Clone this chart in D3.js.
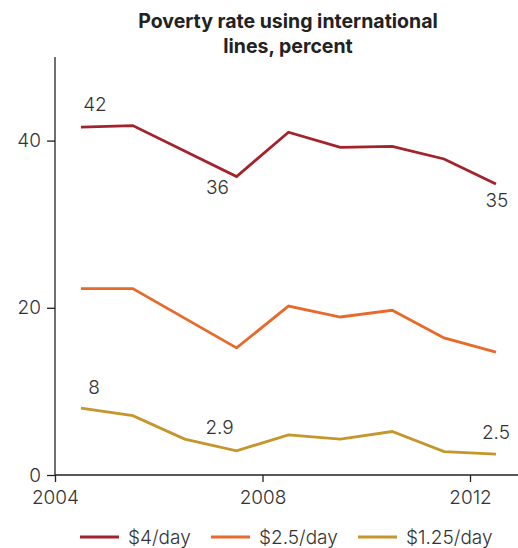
<!DOCTYPE html>
<html>
<head>
<meta charset="utf-8">
<script src="https://cdn.jsdelivr.net/npm/d3@7"></script>
<style>
  body { margin: 0; background: #fff; }
  svg { display: block; }
  text { font-family: Inter, "Open Sans", sans-serif; }
</style>
</head>
<body>
<svg id="chart" width="518" height="548"></svg>
<script>
// ---- data ----
const years = [2004.5, 2005.5, 2006.5, 2007.5, 2008.5, 2009.5, 2010.5, 2011.5, 2012.5];
const seriesNames = ["$4/day", "$2.5/day", "$1.25/day"];
const values4 = [41.6, 41.8, null, 35.7, 41.0, 39.2, 39.3, 37.8, 34.8];
const values25 = [22.3, 22.3, null, 15.2, 20.2, 18.9, 19.7, 16.4, 14.7];
const values125 = [8.0, 7.1, 4.3, 2.9, 4.8, 4.3, 5.2, 2.8, 2.5];
const seriesColors = ["#a3222b", "#e86a2b", "#c4962b"];
const xTicks = [2004, 2008, 2012];
const yTicks = [0, 20, 40];
const titleLines = ["Poverty rate using international", "lines, percent"];
// point labels: series index, point index, text
const labelSeries = [0, 0, 0, 2, 2, 2];
const labelIndex = [0, 3, 8, 0, 3, 8];
const labelText = ["42", "36", "35", "8", "2.9", "2.5"];

// ---- chart ----
const svg = d3.select("#chart");
const W = 518;
const x = d3.scaleLinear().domain([2004, 2012.925]).range([55, 518]);
const y = d3.scaleLinear().domain([0, 50]).range([475, 57]);
const allValues = [values4, values25, values125];

// title
svg.append("text")
  .attr("x", 288).attr("y", 28)
  .attr("text-anchor", "middle")
  .attr("font-size", 19.5).attr("font-weight", 700).attr("fill", "#222")
  .selectAll("tspan").data(titleLines).join("tspan")
  .attr("x", 288).attr("dy", (d, i) => i === 0 ? 0 : 25)
  .text(d => d);

// axes
const yAxis = svg.append("g").attr("transform", "translate(55,0)")
  .call(d3.axisLeft(y).tickValues(yTicks).tickSize(8).tickPadding(6).tickFormat(d3.format("d")));
const xAxis = svg.append("g").attr("transform", "translate(0,475)")
  .call(d3.axisBottom(x).tickValues(xTicks).tickSize(7).tickPadding(9).tickFormat(d3.format("d")));
[yAxis, xAxis].forEach(a => {
  a.select(".domain").attr("stroke", "#222").attr("stroke-width", 1.3);
  a.selectAll(".tick line").attr("stroke", "#222").attr("stroke-width", 1.3);
  a.selectAll(".tick text").attr("font-size", 19).attr("font-weight", 300).attr("fill", "#333")
    .style("font-family", 'Inter, "Open Sans", sans-serif');
});
yAxis.select(".domain").attr("d", `M0,${y(50)}V${y(0)}`);
xAxis.select(".domain").attr("d", `M${x(2004)},0H${W}`);

// lines
const line = d3.line().x(d => x(d[0])).y(d => y(d[1]));
allValues.forEach((vals, si) => {
  const pts = years.map((yr, i) => [yr, vals[i]]).filter(p => p[1] !== null);
  svg.append("path").datum(pts)
    .attr("d", line)
    .attr("fill", "none")
    .attr("stroke", seriesColors[si])
    .attr("stroke-width", 2.8)
    .attr("stroke-linejoin", "miter");
});

// point labels (offsets in pixels relative to the point)
const labelDx = [14, -19, 1, 13, -17, 0];
const labelDy = [-16.5, 17.5, 23, -14, -17, -15];
labelText.forEach((t, k) => {
  const si = labelSeries[k], pi = labelIndex[k];
  const px = x(years[pi]), py = y(allValues[si][pi]);
  svg.append("text")
    .attr("x", px + labelDx[k]).attr("y", py + labelDy[k])
    .attr("text-anchor", "middle")
    .attr("font-size", 19).attr("font-weight", 300).attr("fill", "#333")
    .text(t);
});

// legend
const legendX = [80, 211, 358];
const legend = svg.append("g");
seriesNames.forEach((n, i) => {
  legend.append("line")
    .attr("x1", legendX[i]).attr("x2", legendX[i] + 39)
    .attr("y1", 537).attr("y2", 537)
    .attr("stroke", seriesColors[i]).attr("stroke-width", 2.8);
  legend.append("text")
    .attr("x", legendX[i] + 48).attr("y", 544)
    .attr("font-size", 19).attr("font-weight", 300).attr("fill", "#333")
    .text(n);
});
</script>
</body>
</html>
